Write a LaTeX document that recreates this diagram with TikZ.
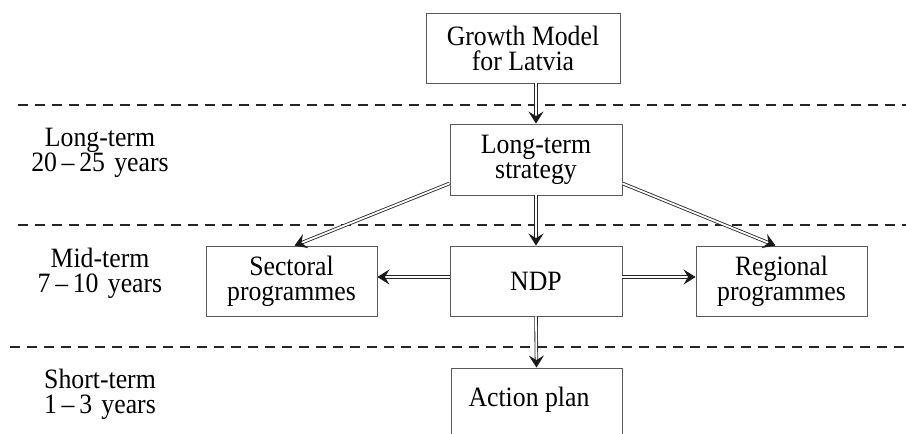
\documentclass[tikz,border=0pt]{standalone}
\usepackage{fontspec}
\setmainfont{Liberation Serif}[FakeStretch=0.92]
\usetikzlibrary{arrows.meta,decorations.markings}
\begin{document}
\begin{tikzpicture}[x=1pt,y=-1pt,
  every node/.style={font=\fontsize{28}{25}\selectfont, align=center},
  box/.style={draw=black!65, line width=0.8pt, minimum height=70pt, inner sep=0pt},
  dbl/.style={double, double distance=1.8pt, line width=0.85pt, draw=black!85,
    shorten >=6pt,
    postaction={decorate, decoration={markings,
      mark=at position 1 with {\arrow[black!90]{Stealth[length=12pt,width=15pt,inset=4.5pt]}}}}},
  level/.style={dashed, dash pattern=on 10pt off 7pt, line width=1.8pt, draw=black!85},
  term/.style={text width=160pt}]
  \clip (0,0) rectangle (906,434);
  \useasboundingbox (0,0) rectangle (906,434);

  % time-horizon separators
  \draw[level] (18,105) -- (906,105);
  \draw[level] (18,225) -- (906,225);
  \draw[level] (10,347) -- (906,347);

  % horizon labels
  \node[term] (lt) at (100,153) {Long-term\\20\,--\,25 years};
  \node[term] (mt) at (100,273) {Mid-term\\7\,--\,10 years};
  \node[term] (st) at (100,394) {Short-term\\1\,--\,3 years};

  % planning documents
  \node[box, minimum width=194pt] (growth) at (523,48) {Growth Model\\for Latvia};
  \node[box, minimum width=172pt, minimum height=71pt] (strat) at (536,159.5) {Long-term\\strategy};
  \node[box, minimum width=172pt] (ndp) at (536,281) {NDP};
  \node[box, minimum width=171pt] (sect) at (291.5,281) {Sectoral\\programmes};
  \node[box, minimum width=171pt] (reg) at (781.5,281) {Regional\\programmes};
  \node[box, minimum width=171pt, minimum height=72pt] (act) at (536.5,404) {};
  \node[anchor=west] (acttext) at (465,400) {Action plan};

  % connectors
  \draw[dbl] (growth.south -| strat.north) -- (strat.north);
  \draw[dbl] (strat.south) -- (ndp.north);
  \draw[dbl] ([yshift=12pt]strat.south west) -- ([xshift=3pt]sect.north);
  \draw[dbl] ([yshift=12pt]strat.south east) -- ([xshift=-6pt]reg.north);
  \draw[dbl] ([yshift=4pt]ndp.west) -- ([yshift=4pt]sect.east);
  \draw[dbl] ([yshift=4pt]ndp.east) -- ([yshift=4pt]reg.west);
  \draw[dbl] (ndp.south) -- (act.north);
\end{tikzpicture}
\end{document}
